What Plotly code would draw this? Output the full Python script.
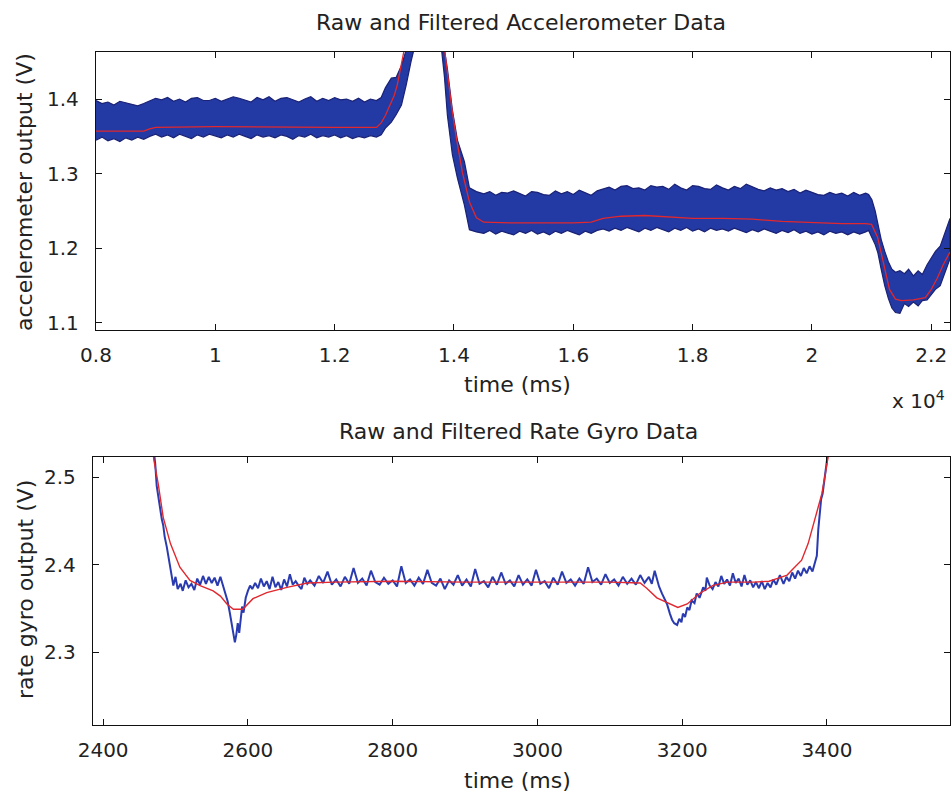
import plotly.graph_objects as go

# ---------------- Accelerometer (top) ----------------
# envelope of the dense raw signal (time in ms)
acc_env_t = [
    8000, 8100, 8200, 8300, 8400, 8500, 8600, 8700, 8800, 8900,
    9000, 9100, 9200, 9300, 9400, 9500, 9600, 9700, 9800, 9900,
    10000, 10100, 10200, 10300, 10400, 10500, 10600, 10700, 10800, 10900,
    11000, 11100, 11200, 11300, 11400, 11500, 11600, 11700, 11800, 11900,
    12000, 12100, 12200, 12300, 12400, 12500, 12600, 12700,
    12780, 12850, 12950, 13030, 13120, 13200, 13280, 13400, 13600, 13760,
    13840, 13890, 13974, 14058, 14175, 14259, 14376,
    14500, 14600, 14700, 14800, 14900, 15000, 15100, 15200, 15300, 15400,
    15500, 15600, 15700, 15800, 15900, 16000, 16100, 16200, 16300, 16400,
    16500, 16600, 16700, 16800, 16900, 17000, 17100, 17200, 17300, 17400,
    17500, 17600, 17700, 17800, 17900, 18000, 18100, 18200, 18300, 18400,
    18500, 18600, 18700, 18800, 18900, 19000, 19100, 19200, 19300, 19400,
    19500, 19600, 19700, 19800, 19900, 20000, 20100, 20200, 20300, 20400,
    20500, 20600, 20700, 20800, 20900,
    20950, 21005, 21060, 21105, 21160, 21220, 21280, 21340, 21400, 21475,
    21550, 21620, 21700, 21780, 21850, 21930, 22000, 22070, 22150, 22230, 22314,
]
acc_upper = [
    1.398, 1.394, 1.396, 1.392, 1.397, 1.395, 1.393, 1.391, 1.394, 1.398,
    1.401, 1.399, 1.402, 1.397, 1.400, 1.396, 1.401, 1.402, 1.398, 1.398,
    1.401, 1.397, 1.400, 1.403, 1.401, 1.399, 1.396, 1.402, 1.399, 1.403,
    1.397, 1.401, 1.402, 1.399, 1.396, 1.400, 1.403, 1.397, 1.401, 1.398,
    1.402, 1.399, 1.400, 1.397, 1.401, 1.396, 1.400, 1.398,
    1.402, 1.415, 1.428, 1.429, 1.445, 1.466, 1.490, 1.530, 1.560, 1.530,
    1.466, 1.440, 1.385, 1.345, 1.316, 1.281, 1.276,
    1.273, 1.276, 1.271, 1.275, 1.274, 1.277, 1.273, 1.270, 1.276, 1.275,
    1.272, 1.271, 1.277, 1.273, 1.276, 1.272, 1.278, 1.274, 1.271, 1.277,
    1.279, 1.282, 1.278, 1.283, 1.284, 1.280, 1.281, 1.278, 1.284, 1.282,
    1.283, 1.279, 1.286, 1.281, 1.278, 1.284, 1.283, 1.280, 1.279, 1.285,
    1.281, 1.278, 1.283, 1.280, 1.286, 1.282, 1.279, 1.277, 1.281, 1.278,
    1.280, 1.276, 1.279, 1.274, 1.278, 1.275, 1.272, 1.271, 1.275, 1.272,
    1.274, 1.270, 1.275, 1.271, 1.274,
    1.272, 1.265, 1.250, 1.232, 1.212, 1.196, 1.182, 1.172, 1.168, 1.170,
    1.166, 1.172, 1.163, 1.170, 1.165, 1.178, 1.188, 1.196, 1.203, 1.222, 1.240,
]
acc_lower = [
    1.345, 1.349, 1.344, 1.347, 1.343, 1.348, 1.345, 1.349, 1.346, 1.350,
    1.353, 1.349, 1.352, 1.348, 1.353, 1.350, 1.347, 1.352, 1.349, 1.353,
    1.350, 1.348, 1.352, 1.349, 1.353, 1.350, 1.347, 1.352, 1.349, 1.351,
    1.348, 1.352, 1.350, 1.346, 1.351, 1.349, 1.353, 1.348, 1.351, 1.349,
    1.352, 1.348, 1.351, 1.347, 1.350, 1.348, 1.351, 1.349,
    1.352, 1.361, 1.369, 1.379, 1.392, 1.419, 1.450, 1.490, 1.530, 1.490,
    1.430, 1.378, 1.325, 1.294, 1.258, 1.225, 1.222,
    1.220, 1.224, 1.219, 1.223, 1.221, 1.218, 1.223, 1.220, 1.224, 1.219,
    1.222, 1.218, 1.223, 1.220, 1.224, 1.221, 1.218, 1.223, 1.220, 1.224,
    1.226, 1.223, 1.227, 1.224, 1.228, 1.225, 1.222, 1.227, 1.224, 1.228,
    1.225, 1.222, 1.227, 1.224, 1.228, 1.223, 1.226, 1.222, 1.227, 1.224,
    1.226, 1.223, 1.227, 1.224, 1.221, 1.225, 1.222, 1.226, 1.223, 1.220,
    1.224, 1.221, 1.225, 1.220, 1.223, 1.219, 1.222, 1.218, 1.223, 1.220,
    1.222, 1.218, 1.222, 1.219, 1.222,
    1.224, 1.215, 1.205, 1.194, 1.172, 1.150, 1.133, 1.120, 1.114, 1.113,
    1.126, 1.122, 1.128, 1.123, 1.130, 1.131, 1.138, 1.145, 1.150, 1.168, 1.186,
]

acc_filt_t = [
    8000, 8800, 8900, 9000, 10000, 11000, 12000, 12700, 12780, 12850,
    12920, 13000, 13050, 13135, 13200, 13400, 13600, 13760, 13840, 13900,
    13960, 14040, 14140, 14260, 14376, 14500, 15000, 16000, 16300, 16500,
    16800, 17200, 17600, 18000, 18500, 19000, 19500, 20000, 20500, 20900,
    21000, 21100, 21200, 21300, 21400, 21500, 21700, 21900, 22000, 22100,
    22200, 22314,
]
acc_filt = [
    1.357, 1.357, 1.360, 1.362, 1.363, 1.362, 1.362, 1.362, 1.368, 1.378,
    1.390, 1.405, 1.419, 1.455, 1.480, 1.530, 1.550, 1.520, 1.465, 1.425,
    1.390, 1.348, 1.302, 1.262, 1.241, 1.235, 1.234, 1.234, 1.235, 1.240,
    1.243, 1.244, 1.242, 1.240, 1.240, 1.239, 1.236, 1.234, 1.233, 1.233,
    1.232, 1.215, 1.180, 1.145, 1.132, 1.130, 1.131, 1.134, 1.145, 1.160,
    1.178, 1.195,
]
acc_xticks = [8000, 10000, 12000, 14000, 16000, 18000, 20000, 22000]
acc_xticktext = ["0.8", "1", "1.2", "1.4", "1.6", "1.8", "2", "2.2"]
acc_yticks = [1.1, 1.2, 1.3, 1.4]
acc_yticktext = ["1.1", "1.2", "1.3", "1.4"]

# ---------------- Rate gyro (bottom) ----------------
gyro_raw_t = [
    2470, 2472, 2474, 2476, 2479, 2481, 2483, 2485, 2488, 2490, 2493, 2495, 2497,
    2500, 2503, 2507, 2510, 2514, 2518, 2522, 2526, 2530, 2534, 2538, 2542, 2546,
    2550, 2554, 2558, 2562, 2566, 2569, 2572, 2575, 2578, 2580, 2582, 2584, 2586,
    2588, 2590, 2592, 2594, 2597, 2600, 2603, 2606, 2610, 2614, 2618, 2622, 2626,
    2630, 2634, 2638, 2642, 2646, 2650, 2654, 2658, 2662, 2666, 2670, 2674, 2678,
    2682, 2686, 2692, 2698, 2704, 2710, 2716, 2722, 2728, 2734, 2740, 2746, 2752,
    2758, 2764, 2770, 2776, 2782, 2788, 2794, 2800, 2806, 2812, 2818, 2824, 2830,
    2836, 2842, 2848, 2854, 2860, 2866, 2872, 2878, 2884, 2890, 2896, 2902, 2908,
    2914, 2920, 2926, 2932, 2938, 2944, 2950, 2956, 2962, 2968, 2974, 2980, 2986,
    2992, 2998, 3004, 3010, 3016, 3022, 3028, 3034, 3040, 3046, 3052, 3058, 3064,
    3070, 3076, 3082, 3088, 3094, 3100, 3106, 3112, 3118, 3124, 3130, 3136, 3142,
    3148, 3154, 3158, 3162, 3165, 3168, 3172, 3176, 3179, 3183, 3186, 3189, 3193,
    3196, 3199, 3201, 3204, 3207, 3210, 3213, 3217, 3220, 3224, 3229, 3232, 3234,
    3238, 3242, 3246, 3250, 3254, 3258, 3262, 3266, 3270, 3274, 3278, 3282, 3286,
    3290, 3294, 3298, 3302, 3306, 3310, 3314, 3318, 3322, 3326, 3330, 3335, 3340,
    3344, 3348, 3352, 3356, 3360, 3364, 3368, 3372, 3376, 3380, 3384, 3386, 3388,
    3390, 3392, 3394, 3396, 3398, 3400, 3402,
]
gyro_raw = [
    2.530, 2.515, 2.490, 2.478, 2.462, 2.452, 2.445, 2.432, 2.420, 2.410, 2.395, 2.383, 2.376,
    2.386, 2.372, 2.378, 2.370, 2.382, 2.374, 2.378, 2.371, 2.384, 2.377, 2.387, 2.378, 2.386,
    2.379, 2.385, 2.376, 2.386, 2.374, 2.366, 2.358, 2.345, 2.330, 2.318, 2.311, 2.320, 2.333,
    2.322, 2.340, 2.352, 2.345, 2.362, 2.370, 2.376, 2.372, 2.379, 2.373, 2.384, 2.375, 2.381,
    2.372, 2.386, 2.374, 2.380, 2.371, 2.383, 2.375, 2.389, 2.377, 2.381, 2.376, 2.372, 2.385,
    2.378, 2.382, 2.376, 2.387, 2.379, 2.392, 2.377, 2.383, 2.375, 2.386, 2.378, 2.396, 2.379,
    2.384, 2.376, 2.393, 2.380, 2.377, 2.385, 2.378, 2.382, 2.375, 2.398, 2.379, 2.383, 2.376,
    2.385, 2.378, 2.394, 2.379, 2.376, 2.384, 2.372, 2.382, 2.377, 2.388, 2.376, 2.383, 2.375,
    2.395, 2.378, 2.381, 2.374, 2.386, 2.377, 2.391, 2.378, 2.382, 2.375, 2.388, 2.377, 2.383,
    2.376, 2.394, 2.378, 2.381, 2.373, 2.385, 2.377, 2.392, 2.379, 2.383, 2.376, 2.384, 2.378,
    2.397, 2.380, 2.384, 2.377, 2.389, 2.379, 2.383, 2.376, 2.386, 2.378, 2.384, 2.377, 2.388,
    2.379, 2.386, 2.378, 2.393, 2.383, 2.375, 2.367, 2.360, 2.355, 2.344, 2.337, 2.333, 2.331,
    2.338, 2.334, 2.344, 2.340, 2.351, 2.348, 2.359, 2.356, 2.367, 2.362, 2.374, 2.370, 2.385,
    2.376, 2.372, 2.380, 2.375, 2.387, 2.378, 2.383, 2.376, 2.390, 2.379, 2.384, 2.375, 2.388,
    2.377, 2.382, 2.374, 2.380, 2.373, 2.381, 2.372, 2.379, 2.374, 2.383, 2.377, 2.388, 2.378,
    2.386, 2.381, 2.391, 2.384, 2.393, 2.387, 2.396, 2.390, 2.398, 2.392, 2.404, 2.410, 2.440,
    2.462, 2.475, 2.481, 2.492, 2.505, 2.519, 2.540,
]
gyro_filt_t = [
    2468, 2470, 2476, 2483, 2493, 2506, 2520, 2534, 2552, 2562, 2571, 2580,
    2593, 2600, 2607, 2626, 2654, 2682, 2720, 2800, 2900, 3000, 3100, 3142,
    3151, 3165, 3183, 3194, 3207, 3224, 3242, 3262, 3300, 3320, 3335, 3345,
    3353, 3365, 3374, 3380, 3387, 3393, 3397, 3401, 3405,
]
gyro_filt = [
    2.540, 2.520, 2.493, 2.454, 2.424, 2.397, 2.382, 2.376, 2.370, 2.364, 2.355, 2.349,
    2.349, 2.355, 2.361, 2.368, 2.374, 2.379, 2.380, 2.381, 2.380, 2.380, 2.380, 2.379,
    2.373, 2.362, 2.355, 2.351, 2.355, 2.367, 2.376, 2.380, 2.380, 2.381, 2.385, 2.388,
    2.395, 2.405, 2.424, 2.442, 2.462, 2.481, 2.500, 2.519, 2.540,
]
gyro_xticks = [2400, 2600, 2800, 3000, 3200, 3400]
gyro_yticks = [2.3, 2.4, 2.5]
gyro_yticktext = ["2.3", "2.4", "2.5"]

RAW_FILL = "#2339a3"
RAW_EDGE = "#1a2275"
RAW_LINE = "#2a3bb0"
FILT = "#e0282e"
FONT = "DejaVu Sans, Arial, sans-serif"
TXT = "#222222"

fig = go.Figure()

# top raw band (polygon: upper forward, lower backward)
band_x = acc_env_t + acc_env_t[::-1]
band_y = acc_upper + acc_lower[::-1]
fig.add_trace(go.Scatter(x=band_x, y=band_y, fill="toself", fillcolor=RAW_FILL,
                         mode="lines", line=dict(color=RAW_EDGE, width=1.2),
                         xaxis="x", yaxis="y", hoverinfo="skip", showlegend=False))
fig.add_trace(go.Scatter(x=acc_filt_t, y=acc_filt, mode="lines",
                         line=dict(color=FILT, width=1.3),
                         xaxis="x", yaxis="y", showlegend=False))

# bottom
fig.add_trace(go.Scatter(x=gyro_raw_t, y=gyro_raw, mode="lines",
                         line=dict(color=RAW_LINE, width=2),
                         xaxis="x2", yaxis="y2", showlegend=False))
fig.add_trace(go.Scatter(x=gyro_filt_t, y=gyro_filt, mode="lines",
                         line=dict(color=FILT, width=1.4),
                         xaxis="x2", yaxis="y2", showlegend=False))

W, H = 951, 797
axis_common = dict(showgrid=False, zeroline=False, showline=True, linecolor="#111111",
                   linewidth=1.4, mirror="ticks", ticks="inside", ticklen=6,
                   tickcolor="#111111", tickwidth=1.2, automargin=False,
                   tickfont=dict(family=FONT, size=20, color=TXT))

fig.update_layout(
    width=W, height=H, margin=dict(l=0, r=0, t=0, b=0, autoexpand=False),
    paper_bgcolor="white", plot_bgcolor="white", showlegend=False,
    xaxis=dict(domain=[96 / W, 950 / W], range=[8000, 22314], anchor="y",
               tickvals=acc_xticks, ticktext=acc_xticktext, ticklabelstandoff=7,
               **axis_common),
    yaxis=dict(domain=[1 - 330 / H, 1 - 52 / H], range=[1.0906, 1.463], anchor="x",
               tickvals=acc_yticks, ticktext=acc_yticktext,
               ticklabelstandoff=12, **axis_common),
    xaxis2=dict(domain=[93 / W, 950 / W], range=[2386, 3570], anchor="y2",
                tickvals=gyro_xticks, ticklabelstandoff=7, **axis_common),
    yaxis2=dict(domain=[1 - 725 / H, 1 - 457 / H], range=[2.2166, 2.523], anchor="x2",
                tickvals=gyro_yticks, ticktext=gyro_yticktext,
                ticklabelstandoff=12, **axis_common),
)

def ann(text, x, y, size, angle=0):
    fig.add_annotation(text=text, x=x / W, y=1 - y / H, xref="paper", yref="paper",
                       showarrow=False, textangle=angle, xanchor="center", yanchor="middle",
                       font=dict(family=FONT, size=size, color=TXT))

ann("Raw and Filtered Accelerometer Data", 521, 22, 22)
ann("Raw and Filtered Rate Gyro Data", 518, 431, 22)
ann("time (ms)", 517, 384, 22)
ann("time (ms)", 517, 780, 22)
ann("accelerometer output (V)", 25, 192, 22, -90)
ann("rate gyro output (V)", 25, 590, 22, -90)
ann("x 10<sup>4</sup>", 918, 400, 20)

fig.write_html("out.html", config={"displayModeBar": False},
               post_script="document.body.style.margin='0';"
                           "document.body.style.overflow='hidden';")
